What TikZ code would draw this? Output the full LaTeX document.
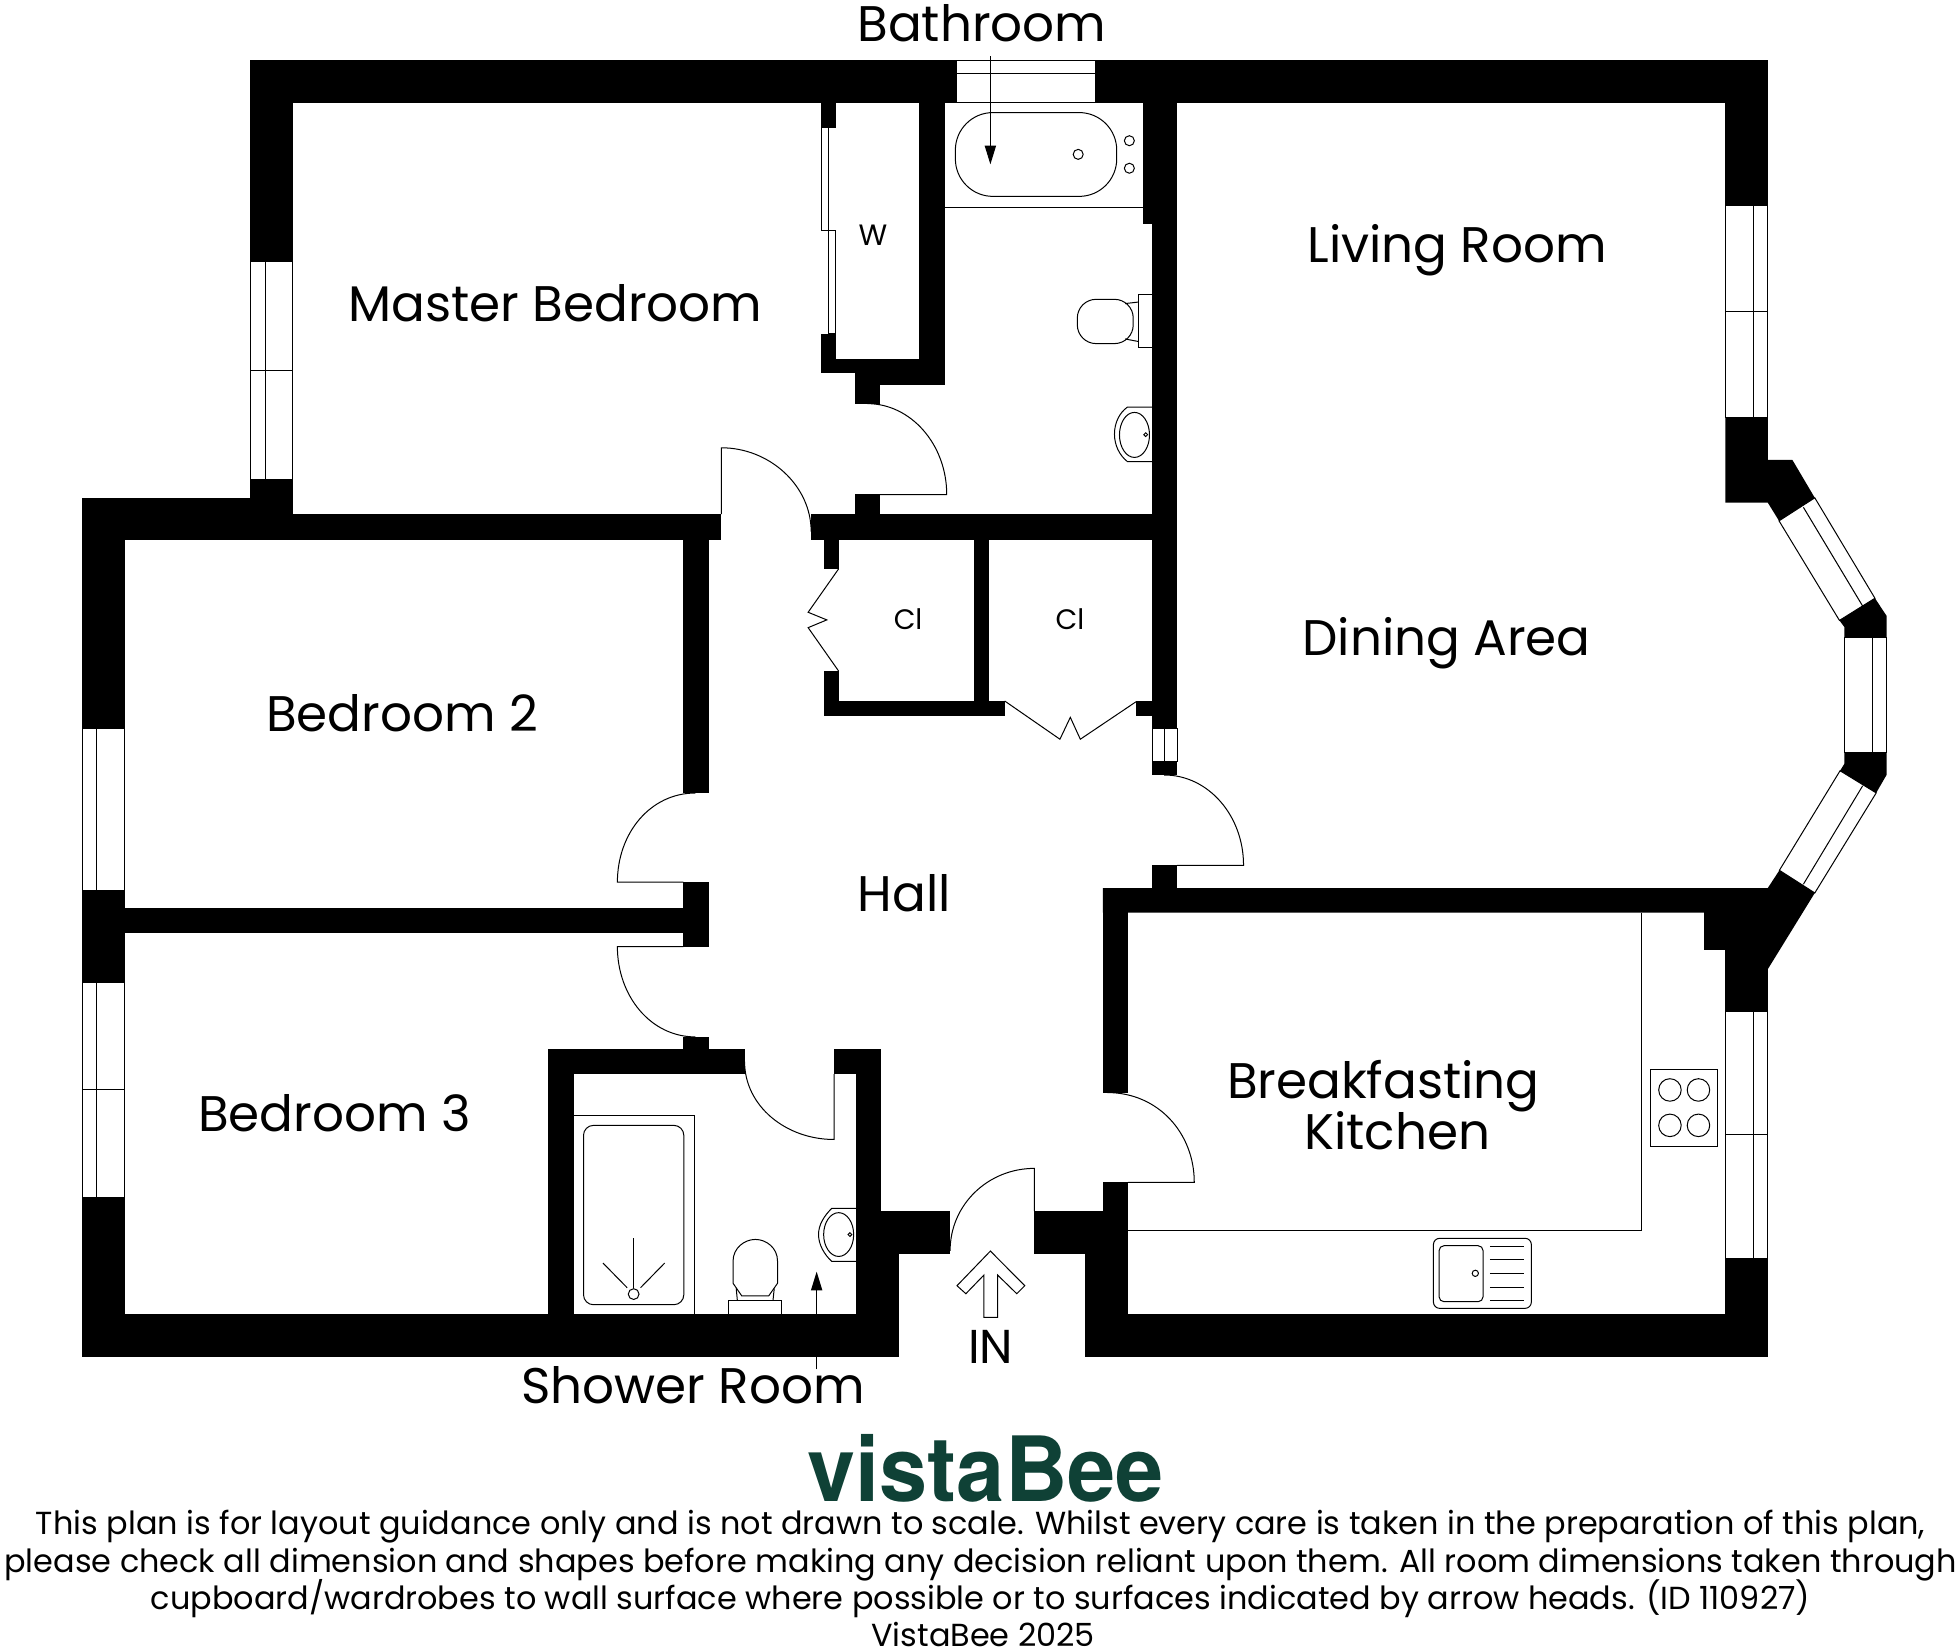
\documentclass[tikz,border=0pt]{standalone}
\usepackage{fontspec}
\setmainfont{Poppins}
\newfontfamily\logofont[FakeStretch=0.96]{TeX Gyre Heros}
\usetikzlibrary{arrows.meta}
\tikzset{
  wall/.style={fill=black},
  fixture/.style={draw=black,line width=0.8pt},
  glazing/.style={draw=black,line width=0.8pt},
  roomlabel/.style={anchor=base,inner sep=0pt,font=\fontsize{40}{42}\selectfont},
  closetlabel/.style={anchor=base,inner sep=0pt,font=\fontsize{22.5}{24}\selectfont},
  noteline/.style={anchor=base,inner sep=0pt,font=\fontsize{25.5}{28}\selectfont},
  dimarrow/.style={draw=black,line width=0.8pt,-{Triangle[length=15pt,width=9pt]}}
}
\definecolor{beegreen}{HTML}{0F4136}
\begin{document}
\begin{tikzpicture}[x=1pt,y=-1pt]
  \useasboundingbox (0,0) rectangle (1567,1317.6);

  % outer walls
  \fill[wall] (200,48) rectangle (764.9,82);
  \fill[wall] (875.5,48) rectangle (1413.3,82);
  \fill[wall] (200,48) rectangle (234,209);
  \fill[wall] (200,383) rectangle (234,432);
  \fill[wall] (65.7,398) rectangle (234,432);
  \fill[wall] (234,411) rectangle (576.8,432);
  \fill[wall] (65.7,398) rectangle (99.7,582.5);
  \fill[wall] (65.7,712.3) rectangle (99.7,785.3);
  \fill[wall] (65.7,957) rectangle (99.7,1084.7);
  \fill[wall] (65.7,1050.6) rectangle (718.6,1084.7);
  \fill[wall] (867.7,1050.6) rectangle (1413.3,1084.7);
  \fill[wall] (1379.4,48) rectangle (1413.3,164);
  \fill[wall] (1379.4,759.4) rectangle (1413.3,808.8);
  \fill[wall] (1379.4,1006) rectangle (1413.3,1084.7);

  % bay piers
  \fill[wall] (1379.4,333.5) -- (1413.3,333.5) -- (1413.3,367.7) -- (1433,367.7) -- (1450.9,398)
    -- (1422.3,416.4) -- (1413.3,401.8) -- (1379.4,401.8) -- cycle;
  \fill[wall] (1470.6,496) -- (1499,478.3) -- (1508.4,492.5) -- (1508.4,509.6) -- (1474.6,509.6) -- (1474.6,501.4) -- cycle;
  \fill[wall] (1474.6,602) -- (1508.4,602) -- (1508.4,619.3) -- (1500,633.9) -- (1471.1,616.2) -- (1474.6,610.5) -- cycle;
  \fill[wall] (1422.6,695.8) -- (1450.9,713.9) -- (1413.3,774.9) -- (1413.3,790) -- (1379.4,790) -- (1379.4,759.4)
    -- (1362.4,759.4) -- (1362.4,729.7) -- (881.8,729.7) -- (881.8,710) -- (1413.3,710) -- cycle;

  % inner walls, top part
  \fill[wall] (656.4,82) rectangle (668.4,102);
  \fill[wall] (656.4,267) rectangle (668.4,298.4);
  \fill[wall] (656.4,287) rectangle (755.5,298.4);
  \fill[wall] (734.7,82) rectangle (755.5,307.8);
  \fill[wall] (683.6,298.4) rectangle (755.5,307.8);
  \fill[wall] (683.6,298.4) rectangle (703.6,322.7);
  \fill[wall] (683.6,395) rectangle (703.6,411);
  \fill[wall] (648.5,411) rectangle (941.1,431.7);
  \fill[wall] (921.4,82) rectangle (941.1,582.8);
  \fill[wall] (913.8,82) rectangle (921.4,179);
  \fill[wall] (921.4,609.2) rectangle (941.1,619.6);
  \fill[wall] (921.4,691.5) rectangle (941.1,710);

  % closets
  \fill[wall] (658.7,431.7) rectangle (670.4,454.9);
  \fill[wall] (658.7,536.4) rectangle (670.4,572.1);
  \fill[wall] (658.7,560.4) rectangle (803.2,572.1);
  \fill[wall] (778.6,431.7) rectangle (790.3,560.4);
  \fill[wall] (908.3,560.4) rectangle (921.4,572.1);

  % bedrooms
  \fill[wall] (546.3,432) rectangle (567,633.6);
  \fill[wall] (546.3,705.3) rectangle (567,756.9);
  \fill[wall] (99.7,726) rectangle (546.3,746.1);
  \fill[wall] (546.4,828.8) rectangle (566.9,839);

  % shower room and entrance
  \fill[wall] (438,838.7) rectangle (595.3,858.7);
  \fill[wall] (438,838.7) rectangle (458.8,1050.6);
  \fill[wall] (666.9,838.7) rectangle (704.3,858.7);
  \fill[wall] (684.7,838.7) rectangle (704.3,1002.3);
  \fill[wall] (704.3,968.2) rectangle (759.6,1002.3);
  \fill[wall] (684.7,1002.3) rectangle (718.6,1084.7);
  \fill[wall] (827,968.2) rectangle (902,1002.3);
  \fill[wall] (867.7,1002.3) rectangle (902,1084.7);

  % kitchen side wall
  \fill[wall] (881.8,710) rectangle (902,873.5);
  \fill[wall] (881.8,945.2) rectangle (902,1002.3);

  % windows
  \draw[glazing] (764.9,48) rectangle (875.5,82);
  \draw[glazing] (764.9,59) -- (875.5,59);
  \draw[glazing] (200,209) rectangle (234,383);
  \draw[glazing] (212,209) -- (212,383);
  \draw[glazing] (200,296) -- (234,296);
  \draw[glazing] (65.7,582.5) rectangle (99.7,712.3);
  \draw[glazing] (77,582.5) -- (77,712.3);
  \draw[glazing] (65.7,785.3) rectangle (99.7,957);
  \draw[glazing] (77,785.3) -- (77,957);
  \draw[glazing] (65.7,871) -- (99.7,871);
  \draw[glazing] (1379.4,164) rectangle (1413.3,333.5);
  \draw[glazing] (1402,164) -- (1402,333.5);
  \draw[glazing] (1379.4,249) -- (1413.3,249);
  \draw[glazing] (1379.4,808.8) rectangle (1413.3,1006);
  \draw[glazing] (1401.9,808.8) -- (1401.9,1006);
  \draw[glazing] (1379.4,906.9) -- (1413.3,906.9);
  \draw[glazing] (921.4,582.8) rectangle (941.1,609.2);
  \draw[glazing] (930.8,582.8) -- (930.8,609.2);
  \draw[glazing] (1422.3,416.4) -- (1450.9,398) -- (1499,478.3) -- (1470.6,496) -- cycle;
  \draw[glazing] (1441.8,405.6) -- (1489.2,484.6);
  \draw[glazing] (1474.6,509.6) rectangle (1508.4,602);
  \draw[glazing] (1497,509.6) -- (1497,602);
  \draw[glazing] (1471.1,616.2) -- (1500,633.9) -- (1450.9,713.9) -- (1422.6,695.8) -- cycle;
  \draw[glazing] (1489.2,628.2) -- (1441.8,706.9);

  % doors
  \draw[fixture] (703.6,395.5) -- (756.9,395.5) .. controls (756.9,355) and (728,322.7) .. (693.5,322.7);
  \draw[fixture] (576.8,411) -- (576.8,358) .. controls (615,358) and (648.5,388) .. (648.5,425);
  \draw[fixture] (546.3,705.3) -- (493.6,705.3) .. controls (493.6,666) and (520,634) .. (556,634);
  \draw[fixture] (546.3,756.9) -- (493.6,756.9) .. controls (493.6,796) and (520,829) .. (556,829);
  \draw[fixture] (941.1,691.8) -- (994.2,691.8) .. controls (994.2,652) and (966,619.6) .. (930.8,619.6);
  \draw[fixture] (902,945.2) -- (954.8,945.2) .. controls (954.8,906) and (926,873.5) .. (885.4,873.5);
  \draw[fixture] (666.9,858.7) -- (666.9,911) .. controls (628,911) and (595.3,884) .. (595.3,848.8);
  \draw[fixture] (827,968.2) -- (827,934.1) .. controls (790,934.1) and (759.6,963) .. (759.6,1000);
  \draw[fixture] (670.4,454.9) -- (646.1,489.5) -- (661,495.6) -- (646.1,501.8) -- (670.4,536.4);
  \draw[fixture] (803.2,560.4) -- (847.4,591) -- (855.7,573.5) -- (863.7,591) -- (908.3,561);
  \draw[fixture] (656.6,102) rectangle (662.5,184);
  \draw[fixture] (662.5,184) rectangle (667.8,267);

  % bathroom
  \draw[fixture] (755.5,165.6) -- (913.8,165.6);
  \draw[fixture,rounded corners=30pt] (763.8,90) rectangle (892.8,157);
  \draw[fixture] (862,123.4) circle[radius=4];
  \draw[fixture] (902.9,112.5) circle[radius=4];
  \draw[fixture] (902.9,134.5) circle[radius=4];
  \draw[fixture] (910,235.3) rectangle (921.4,277.8);
  \draw[fixture,rounded corners=15pt] (861.3,239.3) rectangle (906,274.7);
  \draw[fixture] (899.5,242.7) -- (910,241.5);
  \draw[fixture] (899.5,271) -- (910,273);
  \draw[fixture] (921.4,325.5) -- (901.3,325.5) .. controls (895,330) and (891,338) .. (891,347)
    .. controls (891,356) and (895,364) .. (901.3,369) -- (921.4,369);
  \draw[fixture] (907,347.7) ellipse[x radius=12,y radius=18];
  \draw[fixture] (916,347.5) circle[radius=1.5];

  % shower room
  \draw[fixture] (458.8,891.7) -- (555.2,891.7) -- (555.2,1050.6);
  \draw[fixture,rounded corners=8pt] (466.5,899.7) rectangle (546.7,1043.1);
  \draw[fixture] (506.6,1034.6) circle[radius=4.3];
  \draw[fixture] (506.6,989.8) -- (506.6,1030);
  \draw[fixture] (482.1,1009.8) -- (501.4,1029.5);
  \draw[fixture] (531.4,1009.8) -- (512.1,1029.5);
  \draw[fixture] (582.5,1050.6) -- (582.5,1039.7) -- (625,1039.7) -- (625,1050.6);
  \draw[fixture] (593,1036) -- (614.6,1036) -- (621.6,1026) -- (621.6,1008) .. controls (621.6,998) and (613,990.9) .. (603.9,990.9)
    .. controls (595,990.9) and (586.1,998) .. (586.1,1008) -- (586.1,1026) -- cycle;
  \draw[fixture] (588.6,1030) -- (589.5,1039.7);
  \draw[fixture] (619,1030) -- (618,1039.7);
  \draw[fixture] (684.7,966) -- (665,966) .. controls (659,972) and (654.4,979) .. (654.4,987)
    .. controls (654.4,995) and (659,1003) .. (665,1008.5) -- (684.7,1008.5);
  \draw[fixture] (670.5,987) ellipse[x radius=12,y radius=17.5];
  \draw[fixture] (679.5,987) circle[radius=1.5];

  % kitchen
  \draw[fixture] (1312.4,729.7) -- (1312.4,983.6) -- (902,983.6);
  \draw[fixture] (1319.3,854.9) rectangle (1373.3,916.7);
  \draw[fixture] (1335.1,871.4) circle[radius=9];
  \draw[fixture] (1357.9,871.4) circle[radius=9];
  \draw[fixture] (1335.1,899.7) circle[radius=9];
  \draw[fixture] (1357.9,899.7) circle[radius=9];
  \draw[fixture,rounded corners=5pt] (1146,990) rectangle (1224.3,1046);
  \draw[fixture,rounded corners=4pt] (1150.5,995.9) rectangle (1185.7,1040.7);
  \draw[fixture] (1179.5,1018) circle[radius=2.5];
  \foreach \ydrain in {996.4,1007.3,1018,1029,1039.6}
    \draw[fixture] (1191.2,\ydrain) -- (1218.4,\ydrain);

  % entrance arrow
  \draw[fixture] (791.8,1000.2) -- (765.1,1027.9) -- (772.2,1034.3) -- (786.6,1019.4) -- (786.6,1053.2)
    -- (797.6,1053.2) -- (797.6,1019.4) -- (812.9,1034.3) -- (819.3,1027.9) -- cycle;

  % labels
  \node[roomlabel] (bathroom) at (785,33) {Bathroom};
  \node[roomlabel] (master) at (444,257) {Master Bedroom};
  \node[roomlabel] (living) at (1165,210) {Living Room};
  \node[roomlabel] (dining) at (1156.5,524) {Dining Area};
  \node[roomlabel] (bedtwo) at (321.5,584.5) {Bedroom 2};
  \node[roomlabel] (hall) at (723,728.5) {Hall};
  \node[roomlabel] (bedthree) at (267.5,904.5) {Bedroom 3};
  \node[roomlabel] (breakfasting) at (1106,878) {Breakfasting};
  \node[roomlabel] (kitchen) at (1117,919) {Kitchen};
  \node[roomlabel] (shower) at (554,1122) {Shower Room};
  \node[roomlabel,font=\fontsize{38}{40}\selectfont] (entry) at (792,1090) {IN};
  \node[closetlabel,font=\fontsize{23.5}{24}\selectfont] (ward) at (698,196.5) {W};
  \node[closetlabel] (closetone) at (726,503.5) {Cl};
  \node[closetlabel] (closettwo) at (855.5,503.5) {Cl};

  % arrows to the rooms
  \coordinate (bathstart) at (791.8,44.8);
  \coordinate (bathtip) at (791.8,131.4);
  \draw[dimarrow] (bathstart) -- (bathtip);
  \coordinate (showerstart) at (652.9,1094.8);
  \coordinate (showertip) at (652.9,1016.7);
  \draw[dimarrow] (showerstart) -- (showertip);

  % footer
  \node[anchor=base,inner sep=0pt,text=beegreen,font=\logofont\bfseries\fontsize{72}{74}\selectfont] (logo) at (788,1200.5) {vistaBee};
  \node[noteline] (noteone) at (784,1227) {This plan is for layout guidance only and is not drawn to scale. Whilst every care is taken in the preparation of this plan,};
  \node[noteline] (notetwo) at (784,1257) {please check all dimension and shapes before making any decision reliant upon them. All room dimensions taken through};
  \node[noteline] (notethree) at (784,1287) {cupboard/wardrobes to wall surface where possible or to surfaces indicated by arrow heads. (ID 110927)};
  \node[noteline] (notefour) at (786,1316) {VistaBee 2025};
\end{tikzpicture}
\end{document}
